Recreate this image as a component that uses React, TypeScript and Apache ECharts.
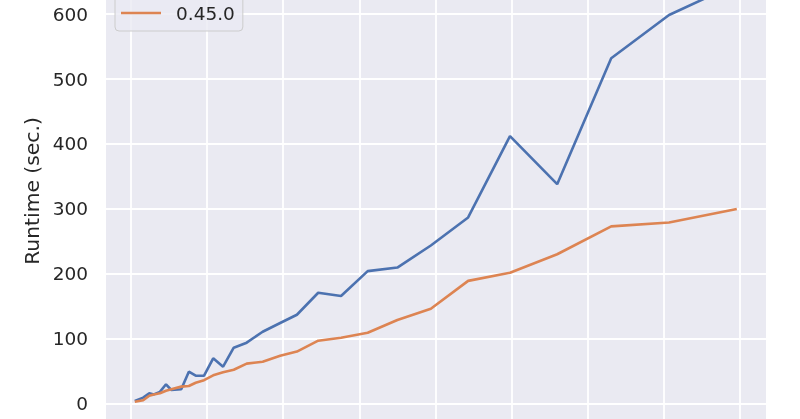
import React, { useEffect, useRef } from "react";
import * as echarts from "echarts";

// Problem size (in units of one vertical gridline step)
const xValues = [
  0.05, 0.16, 0.24, 0.3, 0.38, 0.46, 0.53, 0.66, 0.76, 0.85, 0.96, 1.08, 1.21,
  1.35, 1.52, 1.73, 1.96, 2.18, 2.46, 2.76, 3.11, 3.5, 3.94, 4.43, 4.98, 5.6,
  6.31, 7.07, 7.96,
];

// Runtime (sec.) of the earlier version (blue, legend entry cropped out)
const blueValues = [
  3.9, 9, 15.7, 14, 18, 29.6, 20.8, 21.9, 49, 42.8, 42.8, 69.6, 56.7, 86, 93.7,
  110.6, 124, 136.8, 170.7, 165.6, 204, 209.5, 243.5, 286.7, 412, 338, 532,
  598.6, 647,
];

// Runtime (sec.) of version 0.45.0 (orange)
const orangeValues = [
  2.8, 5, 12, 14, 15.7, 19.7, 22, 26, 27, 32, 36, 43.5, 48, 52, 61.5, 64.4,
  73.5, 80, 96.8, 101.4, 109, 128.7, 146, 189, 201.6, 230, 273, 279, 299.7,
];

const orangeName = "0.45.0";
const yAxisName = "Runtime (sec.)";
const yVisibleTicks = [0, 100, 200, 300, 400, 500, 600];

const FONT = "DejaVu Sans";
const TEXT = "#262626";

export default function App() {
  const ref = useRef<HTMLDivElement>(null);

  useEffect(() => {
    if (!ref.current) return;
    const chart = echarts.init(ref.current, undefined, { renderer: "svg" });
    chart.setOption({
      animation: false,
      grid: {
        left: 106,
        right: 34,
        top: -86.4,
        bottom: -49.4,
        show: true,
        backgroundColor: "#eaeaf2",
        borderWidth: 0,
        containLabel: false,
        outerBoundsMode: "none",
      },
      legend: {
        show: true,
        data: [orangeName],
        orient: "vertical",
        left: 115,
        top: -29,
        padding: [31, 8, 7, 6],
        backgroundColor: "rgba(234,234,242,0.8)",
        borderColor: "#cccccc",
        borderWidth: 1,
        borderRadius: 4,
        icon: "rect",
        itemWidth: 40,
        itemHeight: 2.6,
        textStyle: {
          fontFamily: FONT,
          fontSize: 18.5,
          color: TEXT,
          lineHeight: 22,
          padding: [0, 0, 0, 10],
        },
      },
      xAxis: {
        type: "value",
        min: -0.3285,
        max: 8.344,
        minInterval: 1,
        maxInterval: 1,
        axisLine: { show: false },
        axisTick: { show: false },
        axisLabel: { show: false },
        splitLine: {
          show: true,
          showMinLine: false,
          showMaxLine: false,
          lineStyle: { color: "#ffffff", width: 1.8 },
        },
      },
      yAxis: {
        type: "value",
        min: -100,
        max: 754.9,
        interval: 100,
        name: yAxisName,
        nameLocation: "middle",
        nameGap: 56,
        nameTextStyle: { fontFamily: FONT, fontSize: 20.3, color: TEXT },
        axisLine: { show: false },
        axisTick: { show: false },
        axisLabel: {
          fontFamily: FONT,
          fontSize: 18.5,
          color: TEXT,
          margin: 18,
          showMinLabel: false,
          showMaxLabel: false,
          formatter: (v: number) =>
            yVisibleTicks.includes(Math.round(v)) ? String(Math.round(v)) : "",
        },
        splitLine: {
          show: true,
          showMaxLine: false,
          lineStyle: { color: "#ffffff", width: 1.8 },
        },
      },
      series: [
        {
          type: "line",
          name: "earlier",
          data: xValues.map((x, i) => [x, blueValues[i]]),
          symbol: "none",
          lineStyle: { color: "#4c72b0", width: 2.6 },
          itemStyle: { color: "#4c72b0" },
        },
        {
          type: "line",
          name: orangeName,
          data: xValues.map((x, i) => [x, orangeValues[i]]),
          symbol: "none",
          lineStyle: { color: "#dd8452", width: 2.6 },
          itemStyle: { color: "#dd8452" },
        },
      ],
    });
    return () => chart.dispose();
  }, []);

  return (
    <div
      ref={ref}
      style={{ position: "fixed", left: 0, top: 0, width: 800, height: 419 }}
    />
  );
}
